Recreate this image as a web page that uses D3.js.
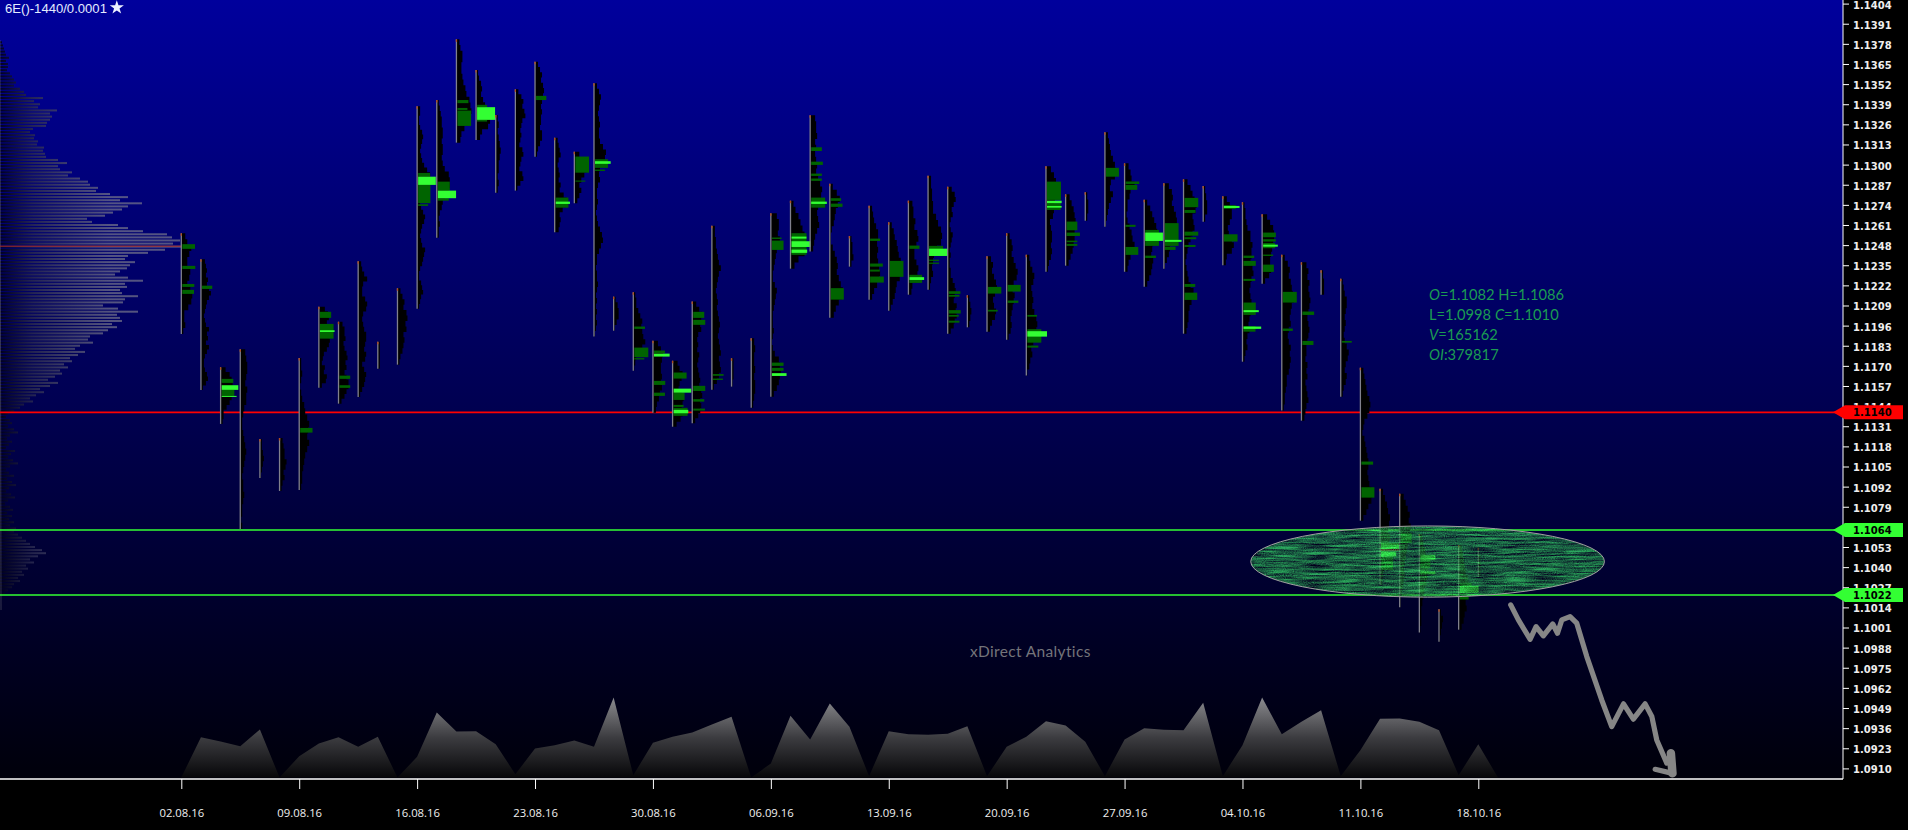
<!DOCTYPE html>
<html><head><meta charset="utf-8">
<script src="https://cdnjs.cloudflare.com/ajax/libs/d3/7.8.5/d3.min.js"></script>
<style>html,body{margin:0;padding:0;background:#000;overflow:hidden}svg{display:block}</style>
</head><body><svg id="c" width="1908" height="830"></svg>
<script>
const title="6E()-1440/0.0001";
const watermark="xDirect Analytics";
const dateLabels=["02.08.16","09.08.16","16.08.16","23.08.16","30.08.16","06.09.16","13.09.16","20.09.16","27.09.16","04.10.16","11.10.16","18.10.16"];
const dateBars=[0,6,12,18,24,30,36,42,48,54,60,66];
const levels=[{p:1.1140,c:"#ff0000"},{p:1.1064,c:"#33ff33"},{p:1.1022,c:"#33ff33"}];
const highs=[1.12556,1.12388,1.11691,1.11807,1.11228,1.11234,1.11751,1.12082,1.11985,1.12375,1.11856,1.12201,1.13377,1.13417,1.13809,1.13611,1.1332,1.13486,1.13665,1.13174,1.13083,1.13525,1.12147,1.12175,1.11863,1.11733,1.12115,1.12605,1.11749,1.11878,1.12686,1.12767,1.13319,1.12877,1.12539,1.12735,1.12627,1.12767,1.12928,1.12857,1.12156,1.12408,1.12556,1.12418,1.12989,1.12808,1.12821,1.13209,1.13008,1.12773,1.12879,1.12905,1.12862,1.12795,1.12757,1.12679,1.12418,1.12369,1.12317,1.12263,1.11688,1.10907,1.10874,1.10614,1.10128,1.10543,1.10526];
const lows=[1.11906,1.11544,1.11325,1.10646,1.10976,1.10892,1.10898,1.11559,1.11456,1.11499,1.11682,1.11708,1.12069,1.12528,1.13142,1.13159,1.12819,1.12832,1.13051,1.12563,1.1275,1.11889,1.11927,1.11669,1.11398,1.11307,1.11329,1.11546,1.11566,1.1143,1.11501,1.12328,1.12438,1.12011,1.12341,1.12127,1.12056,1.1216,1.12192,1.11908,1.11949,1.11921,1.11869,1.11637,1.12308,1.12347,1.12638,1.12599,1.12308,1.12211,1.12328,1.11908,1.12631,1.1235,1.11727,1.12231,1.11411,1.11346,1.1216,1.11501,1.1070,1.10285,1.10141,1.09977,1.09918,1.09996,1.10338];
const dailyVolume=[0,121,108,94,144,0,64,102,121,92,122,0,62,195,138,139,100,10,87,97,111,92,240,7,104,122,135,159,182,0,42,185,114,222,152,4,139,130,128,131,154,4,92,122,169,156,107,4,114,148,143,142,224,4,97,240,130,167,202,4,82,176,177,167,142,7,100,0];
const profiles=[
[2,4,6,10,8,6,6,9,8,6,9,11,10,7,3,3,4,2],
[2,4,5,6,5,7,6,8,10,8,6,5,4,3,4,5,8,6,7,5,8,6,4,3,3,4,6,7,5,2],
[2,5,9,11,12,13,12,11,9,6,3,3,2],
[2,5,6,7,7,6,5,7,6,6,4,3,2,2,3,4,5,6,5,4,3,2,3,3,4,3,2,2,1,2],
[1,2,2,3,4,3,2,1],
[2,3,4,5,5,7,6,4,5,3,2],
[1,2,2,3,2,1,2,3,5,6,8,10,9,8,10,8,6,5,4,3,3,2],
[3,6,9,10,8,6,8,10,11,10,8,5,4,3,6,5,8,7,3],
[2,4,6,6,7,5,6,8,9,7,8,6,8,10,10,8,6,3],
[2,3,4,6,9,5,4,4,7,9,8,5,4,5,6,8,8,7,6,8,7,4,6,8,7,6,4,2],
[1,2,2,2,2],
[2,3,5,7,6,9,10,8,9,6,7,6,5,3,2],
[2,3,3,2,2,3,5,6,5,4,3,4,5,7,10,13,13,13,11,8,5,3,4,6,8,7,5,4,3,4,5,8,7,6,5,3,2,2,4,5,6,4,3,2],
[1,2,3,4,5,5,6,6,5,6,6,5,6,8,12,13,13,12,8,6,5,3,2,3,2,2],
[1,3,4,6,6,5,5,6,7,9,10,13,14,15,14,12,8,5,4],
[1,2,3,5,6,5,7,9,13,14,14,12,6,4],
[2,2,3,2,3,4,5,4,3,3,2,3,2],
[2,3,6,8,7,9,10,7,6,5,6,5,4,7,8,6,5,4,7,8,5,2],
[1,3,5,7,6,8,9,8,7,6,7,6,6,5,7,7,5,3,2],
[1,3,4,5,6,4,3,4,5,4,6,5,9,12,11,8,5,6,5,4],
[2,5,8,10,12,10,7,5,7,5,3],
[1,3,5,7,6,5,4,5,6,5,5,6,9,12,11,7,6,5,6,4,3,3,4,3,2,3,4,6,8,9,7,5,3,3,2,3,3,4,3,2,3,2,3,2,3,2,1],
[1,2,4,5,5,3,1],
[1,2,3,3,5,7,9,8,9,10,12,9,6,3,2,1],
[2,5,8,10,9,8,8,9,8,9,7,6,4,3],
[2,5,7,10,9,7,6,9,11,10,9,10,8,4],
[2,4,7,10,9,8,9,6,5,6,5,7,6,5,6,7,8,7,9,10,8,9,8,6,3],
[1,3,3,4,4,5,6,7,9,7,6,5,4,5,6,5,6,7,8,7,6,7,8,9,7,8,9,7,5,2],
[1,2,2,2,1],
[1,3,4,3,3,4,3,4,4,3,2],
[2,6,8,8,7,9,9,6,5,4,3,2,2,4,6,5,4,3,2,2,2,3,2,1,2,4,8,9,10,9,8,6,3],
[1,3,5,8,10,12,14,15,15,14,8,4],
[2,5,6,6,7,5,6,5,6,7,6,8,10,12,11,10,8,7,8,9,7,5,4,3],
[1,3,7,10,8,6,5,4,2,1,1,3,5,7,8,7,9,11,13,12,9,6,4],
[1,2,3,3,4,2],
[1,3,4,5,7,9,9,8,9,8,9,10,11,10,8,5,3],
[1,3,5,6,8,9,10,12,13,13,11,8,7,6,4,2],
[2,4,5,5,7,6,9,10,8,6,6,8,10,9,8,4,3],
[1,3,3,4,4,5,5,8,10,13,14,13,9,6,5,4,5,3,2],
[2,4,7,8,6,4,5,3,2,3,5,4,3,2,3,2,2,3,3,5,7,8,7,6,9,8,9,7,6,3],
[1,2,3,4,3,2],
[2,4,6,5,7,9,10,8,6,7,9,8,5,3],
[2,3,5,6,5,7,9,11,10,7,6,8,7,6,5,4,5,4,2],
[1,3,4,6,8,7,5,6,7,6,8,10,11,10,8,7,5,6,4,3,1],
[2,5,8,10,10,10,9,8,8,7,4,5,6,6,5,6,5,3,2],
[2,4,6,8,9,10,10,9,9,8,7,5,3],
[1,2,3,3,2],
[1,3,4,5,6,8,10,11,10,6,5,8,6,4,3,2,1],
[2,4,6,7,10,6,5,3,3,2,3,5,7,8,10,9,6,4,3],
[1,3,6,8,10,12,13,12,9,8,7,9,8,7,5,3],
[2,5,8,9,8,10,12,13,13,12,9,7,6,5,3,1],
[2,4,7,9,11,13,12,9,10,11,9,7,5,4,3,2,3,4,5,7,10,11,8,6,5,5,4,3],
[1,2,3,4,4,2],
[2,4,7,9,9,7,5,6,9,11,9,4,3],
[1,2,3,3,4,5,8,8,10,9,9,8,10,11,9,8,7,8,9,8,8,7,6,7,5,4,5,3,2],
[2,5,8,11,12,12,11,10,9,8,8,9,7,3],
[1,3,6,8,7,9,10,11,12,10,9,8,9,7,6,7,9,8,9,8,7,5,5,4,3,3,2],
[2,5,7,6,8,7,8,9,8,7,6,7,8,7,6,5,5,4,6,5,6,4,5,6,7,5,4,3],
[1,2,3,3],
[1,2,3,4,6,6,5,4,5,4,3,4,6,8,7,5,4,6,5,3,2],
[1,3,4,5,6,7,9,10,9,7,4,3,2,4,5,6,7,8,8,7,8,9,11,12,11,8,6,3],
[1,3,5,7,8,10,9,8,10,9,8,7,6,4,3,2],
[1,4,6,8,10,9,11,10,9,8,7,6,5,4,5,4,3,2,1,1],
[2,3,4,6,7,8,9,8,7,5,4,3,2,2,2,1],
[1,2,4,3,2,1],
[1,3,4,5,6,7,9,10,10,8,7,8,6,5,3],
[1,1,2,2,2]];
// [bar, top price, bottom price, volume, hot]
const nodes=[
[0,1.12486,1.12456,13.7,0],[0,1.12346,1.12326,14,0],[0,1.12229,1.1221,13,0],[0,1.12191,1.12165,12.7,0],
[1,1.12218,1.12197,11.3,0],
[2,1.11616,1.1159,12.7,0],[2,1.11575,1.11545,17.7,1],[2,1.11545,1.11506,13.7,0],[2,1.11506,1.115,16,1],
[6,1.11299,1.11269,13.3,0],
[7,1.12049,1.1201,12.3,0],[7,1.11971,1.11876,14.7,0],[7,1.1193,1.11919,15.7,1],
[8,1.11637,1.11616,11.7,0],[8,1.11575,1.11558,11.7,0],
[12,1.12946,1.12922,13,0],[12,1.12922,1.12869,18.7,1],[12,1.12869,1.12751,13.3,0],[12,1.12744,1.12733,11,0],
[13,1.1289,1.12832,13,0],[13,1.12832,1.12783,19.3,1],[13,1.12783,1.12767,12,0],
[14,1.13417,1.13397,12,0],[14,1.13366,1.13353,11,0],[14,1.13349,1.1325,14.7,0],
[15,1.13386,1.13371,11,0],[15,1.13371,1.13289,19,1],[15,1.13289,1.13278,11,0],
[18,1.13444,1.13417,11.3,0],
[19,1.12787,1.12722,13.7,0],[19,1.12761,1.12746,15.3,1],
[20,1.13052,1.12948,14.7,0],[20,1.12897,1.1289,11,0],
[21,1.13035,1.12979,14,0],[21,1.13022,1.13005,16.7,1],[21,1.12968,1.12959,11,0],
[23,1.11954,1.11939,11.7,0],[23,1.11818,1.11756,15,0],[23,1.1175,1.11741,11,0],
[24,1.11799,1.11782,12,0],[24,1.11779,1.1176,16.7,1],[24,1.11603,1.11577,12.3,0],[24,1.11527,1.11506,12,0],
[25,1.11657,1.11618,14,0],[25,1.11553,1.11527,18.7,1],[25,1.11527,1.1148,12,0],[25,1.11448,1.11435,11,0],[25,1.11429,1.11377,15,0],[25,1.11416,1.11394,15.7,1],
[26,1.12049,1.1201,12,0],[26,1.11997,1.11965,13,0],[26,1.11571,1.11538,13,0],[26,1.11485,1.11469,12,0],[26,1.11424,1.11411,12.7,0],
[27,1.11647,1.11636,11.7,0],[27,1.11618,1.11609,11,0],
[30,1.12529,1.1252,10.7,0],[30,1.12509,1.12449,12.7,0],[30,1.11721,1.117,12.7,0],[30,1.11687,1.11668,12.7,0],[30,1.11653,1.11635,15.7,1],
[31,1.12557,1.12417,16,0],[31,1.12535,1.12522,16,1],[31,1.12505,1.12468,20,1],[31,1.12451,1.1243,16.7,1],
[32,1.13112,1.13088,11.7,0],[32,1.13019,1.12998,12.7,0],[32,1.12942,1.12927,11.7,0],[32,1.1291,1.12895,11.7,0],[32,1.12787,1.12722,15,0],[32,1.12761,1.12746,16.7,1],
[33,1.12783,1.12766,11.3,0],[33,1.12748,1.12727,12.7,0],[33,1.12202,1.12128,14,0],
[35,1.12522,1.12507,11,0],[35,1.12361,1.12341,13.7,0],[35,1.12322,1.12309,10.7,0],[35,1.12277,1.12238,14.7,0],
[36,1.12378,1.12275,14.7,0],
[37,1.12477,1.12456,11,0],[37,1.12288,1.12236,13.7,0],[37,1.12273,1.12255,15.7,1],
[38,1.12475,1.1241,15,0],[38,1.12457,1.1241,19.7,1],[38,1.12386,1.12378,11,0],[38,1.12367,1.12359,11,0],
[39,1.12182,1.12165,12.7,0],[39,1.12158,1.12147,11.7,0],[39,1.1206,1.12038,13,0],[39,1.12029,1.12018,11,0],[39,1.11992,1.11979,11.7,0],
[41,1.1221,1.12167,14.3,0],[41,1.12062,1.12051,10.7,0],
[42,1.12223,1.1218,14,0],[42,1.12122,1.12107,11.7,0],
[43,1.12029,1.12018,10.7,0],[43,1.11937,1.1185,15,0],[43,1.11924,1.11889,20.7,1],[43,1.11831,1.11818,12,0],
[44,1.1289,1.12772,15,0],[44,1.12767,1.12751,15.7,1],[44,1.12733,1.12722,15.7,1],[44,1.12751,1.12707,14.7,0],
[45,1.12632,1.12576,11.7,0],[45,1.12561,1.12539,14.3,0],[45,1.12509,1.12499,11.7,0],[45,1.12488,1.12475,11.7,0],
[47,1.12979,1.12922,14,0],
[48,1.12891,1.12875,14.7,0],[48,1.12869,1.12837,12.7,0],[48,1.12611,1.12598,11,0],[48,1.12468,1.12417,13.7,0],
[49,1.12578,1.12475,14.7,0],[49,1.12561,1.12507,18.7,1],[49,1.12412,1.12397,11.7,0],
[50,1.12622,1.12475,14.7,0],[50,1.12514,1.12501,17.7,1],[50,1.1247,1.12449,11.7,0],
[51,1.12785,1.12725,14.7,0],[51,1.12707,1.12688,12,0],[51,1.12567,1.12541,14.7,0],[51,1.12531,1.12518,12.7,0],[51,1.12481,1.12468,12,0],[51,1.12229,1.1221,11.7,0],[51,1.12173,1.12126,13.7,0],
[53,1.12738,1.12714,13,0],[53,1.12733,1.1272,16.7,1],[53,1.1255,1.12503,14.7,0],
[54,1.12412,1.12397,11.7,0],[54,1.12378,1.12346,13.3,0],[54,1.12262,1.12249,12.7,0],[54,1.12109,1.12029,13.3,0],[54,1.1206,1.12047,16.3,1],[54,1.11956,1.11921,13,0],[54,1.11954,1.11939,18.7,1],
[55,1.12561,1.12531,13.7,0],[55,1.12518,1.12503,13.7,0],[55,1.12494,1.1246,13,0],[55,1.12483,1.1247,15.7,1],[55,1.12419,1.1241,11,0],[55,1.12354,1.12307,11.7,0],
[56,1.12178,1.12109,15,0],[56,1.11941,1.11926,11,0],
[57,1.12051,1.12029,12.7,0],[57,1.11861,1.11835,12,0],
[59,1.11861,1.1185,11,0],
[60,1.11082,1.11062,12.7,0],[60,1.10916,1.10849,14,0],
[61,1.10555,1.10516,19,1],[61,1.105,1.10468,16,1],[61,1.10468,1.10382,13,0],
[62,1.10621,1.10557,12,0],
[63,1.10479,1.10447,16,1],[63,1.10447,1.10395,11,0],[63,1.10371,1.10354,16,1],
[65,1.10298,1.10279,13,0],[65,1.10279,1.10235,20,1],[65,1.1021,1.10191,10,0]];
const compositeTop=1.1379, compositeStep=0.0002;
const compositeProfile=[2,3,4,5,6,9,6,8,8,7,10,12,14,16,14,20,24,26,43,34,40,38,57,50,52,50,47,46,33,30,35,34,38,37,44,43,45,46,58,67,58,60,72,68,80,88,90,98,96,110,128,120,142,128,122,113,105,87,92,118,128,143,167,172,180,173,192,165,148,128,125,135,130,127,120,115,128,143,125,127,120,122,138,125,123,103,118,138,117,120,122,112,117,108,103,90,88,93,80,
75,85,78,70,72,64,68,60,62,55,48,58,50,40,44,36,30,33,24,20,
14,8,6,10,12,8,14,18,10,7,12,9,6,15,11,8,13,18,10,6,9,14,7,12,16,9,6,11,15,8,5,10,13,7,12,9,14,10,16,
14,18,22,26,30,35,42,46,38,30,34,26,28,22,24,18,20,14,12,8,5];
const compositePoc=1.12473;
const sessionPoc={bar:61,price:1.10511,vol:20};
const quote=[[["O",1],["=1.1082 H=1.1086",0]],[["L",0],["=1.0998 ",0],["C",1],["=1.1010",0]],[["V",1],["=165162",0]],[["OI",1],[":379817",0]]];
const zone={from:54.42,to:72.42,top:1.10666,bottom:1.10206};
const forecastBars=[67.65,68.04,68.64,68.94,69.31,69.79,70.03,70.25,70.67,71.01,71.52,72.28,72.79,73.39,73.89,74.49,74.83,75.08,75.59,75.8,75.88,75.0];
const forecastPrices=[1.10156,1.10059,1.09934,1.10016,1.09956,1.10033,1.09973,1.10059,1.1008,1.10038,1.09822,1.09542,1.0937,1.09517,1.09418,1.09517,1.09435,1.09284,1.09134,1.09198,1.09068,1.09094];
const axisTicks=[1.1404,1.1391,1.1378,1.1365,1.1352,1.1339,1.1326,1.1313,1.13,1.1287,1.1274,1.1261,1.1248,1.1235,1.1222,1.1209,1.1196,1.1183,1.117,1.1157,1.1144,1.1131,1.1118,1.1105,1.1092,1.1079,1.1066,1.1053,1.104,1.1027,1.1014,1.1001,1.0988,1.0975,1.0962,1.0949,1.0936,1.0923,1.091];

const W=1908,H=830,plotR=1843,plotB=779;
const x=d3.scaleLinear().domain([0,66]).range([181.3,1478.3]);
const y=d3.scaleLinear().domain([1.1404,1.1022]).range([3.6,595]);
const vw=d3.scaleLinear().domain([0,100]).range([0,100]);
const vy=d3.scaleLinear().domain([0,240]).range([777.5,697.5]);
const svg=d3.select("#c");
const defs=svg.append("defs");
const grad=(id,attrs,stops)=>{const g=defs.append("linearGradient").attr("id",id).attr("gradientUnits","userSpaceOnUse");
 Object.entries(attrs).forEach(([k,v])=>g.attr(k,v));stops.forEach(s=>g.append("stop").attr("offset",s[0]).attr("stop-color",s[1]).attr("stop-opacity",s[2]==null?1:s[2]));};
grad("bg",{x1:0,y1:0,x2:0,y2:plotB},[[0,"#00009c"],[0.5,"#000054"],[1,"#00000a"]]);
grad("comp",{x1:0,y1:0,x2:110,y2:0},[[0,"#000018",0.9],[0.3,"#2a2a50",0.85],[1,"#74748a",0.72]]);
grad("vol",{x1:0,y1:697,x2:0,y2:778},[[0,"#8c8c90"],[0.5,"#3c3c40"],[1,"#060608"]]);
const f=defs.append("filter").attr("id","tex").attr("filterUnits","userSpaceOnUse").attr("x",1240).attr("y",520).attr("width",380).attr("height",85).attr("color-interpolation-filters","sRGB");
f.append("feTurbulence").attr("type","fractalNoise").attr("baseFrequency","0.03 0.55").attr("numOctaves",3).attr("seed",4).attr("result","streak");
f.append("feTurbulence").attr("type","fractalNoise").attr("baseFrequency","0.9 0.9").attr("numOctaves",1).attr("seed",9).attr("result","grain");
f.append("feComposite").attr("in","streak").attr("in2","grain").attr("operator","arithmetic").attr("k1",0).attr("k2",0.68).attr("k3",0.32).attr("k4",0).attr("result","mix");
f.append("feColorMatrix").attr("in","mix").attr("type","matrix").attr("values","0.5 0 0 0 -0.1  2.3 0 0 0 -0.6  0.8 0 0 0 -0.12  0 0 0 0 0.65").attr("result","col");
f.append("feComposite").attr("in","col").attr("in2","SourceAlpha").attr("operator","in");

svg.append("rect").attr("width",W).attr("height",H).attr("fill","#000");
svg.append("rect").attr("width",plotR).attr("height",plotB).attr("fill","url(#bg)");

// composite volume profile
svg.append("g").selectAll("rect").data(compositeProfile).join("rect")
 .attr("x",0).attr("y",(d,i)=>y(compositeTop-i*compositeStep)-1).attr("height",2).attr("width",d=>vw(d)).attr("fill","url(#comp)");
svg.append("line").attr("x1",0).attr("x2",1).attr("y1",40).attr("y2",610).attr("stroke","#999").attr("stroke-opacity",.35).attr("stroke-width",1);
svg.append("line").attr("x1",0).attr("x2",x(0)+9.5).attr("y1",y(compositePoc)).attr("y2",y(compositePoc)).attr("stroke","#a82a2a").attr("stroke-width",1);

// support and resistance
svg.append("g").selectAll("line").data(levels).join("line").attr("x1",0).attr("x2",plotR)
 .attr("y1",d=>y(d.p)).attr("y2",d=>y(d.p)).attr("stroke",d=>d.c).attr("stroke-width",d=>d.c==="#ff0000"?1.8:1.6);

// volume profile silhouettes
const area=d3.area().curve(d3.curveStepAfter);
svg.append("g").selectAll("path").data(profiles).join("path").attr("fill","#000").attr("d",(p,b)=>{
 const py=d3.scaleLinear().domain([0,p.length-1]).range([y(highs[b]),y(lows[b])]);
 return area.x0(()=>x(b)).x1(d=>x(b)+vw(d)).y((d,i)=>py(i))(p);
});
// value nodes
const sorted=nodes.slice().sort((a,b)=>a[4]-b[4]);
svg.append("g").selectAll("rect").data(sorted).join("rect")
 .attr("x",d=>x(d[0])+1).attr("y",d=>y(d[1])).attr("width",d=>vw(d[3])-1).attr("height",d=>Math.max(1,y(d[2])-y(d[1])))
 .attr("fill",d=>d[4]?"#33ff33":"#006400");
svg.append("line").attr("x1",x(sessionPoc.bar)).attr("x2",x(sessionPoc.bar)+vw(sessionPoc.vol)).attr("y1",y(sessionPoc.price)).attr("y2",y(sessionPoc.price)).attr("stroke","#d03020").attr("stroke-width",1.2);

// bars
svg.append("g").selectAll("line").data(highs).join("line")
 .attr("x1",(d,i)=>x(i)).attr("x2",(d,i)=>x(i)).attr("y1",d=>y(d)).attr("y2",(d,i)=>y(lows[i]))
 .attr("stroke","#80808c").attr("stroke-width",1.3);
svg.append("g").selectAll("line").data(highs).join("line")
 .attr("x1",(d,i)=>x(i)).attr("x2",(d,i)=>x(i)).attr("y1",d=>y(d)).attr("y2",d=>y(d)+2.5)
 .attr("stroke","#b04a20").attr("stroke-width",1.3);

// marked zone
const zx0=x(zone.from),zx1=x(zone.to),zy0=y(zone.top),zy1=y(zone.bottom);
svg.append("ellipse").attr("cx",(zx0+zx1)/2).attr("cy",(zy0+zy1)/2).attr("rx",(zx1-zx0)/2).attr("ry",(zy1-zy0)/2).attr("fill","#0a0").attr("filter","url(#tex)");
svg.append("ellipse").attr("cx",(zx0+zx1)/2).attr("cy",(zy0+zy1)/2).attr("rx",(zx1-zx0)/2).attr("ry",(zy1-zy0)/2).attr("fill","none").attr("stroke","#a0a0a0").attr("stroke-width",1);

// freehand forecast
const fLine=d3.line().x(d=>x(d[0])).y(d=>y(d[1]));
const fPts=forecastBars.map((b,i)=>[b,forecastPrices[i]]);
svg.append("path").datum(fPts).attr("fill","none").attr("stroke","#868686").attr("stroke-width",5.2).attr("stroke-linejoin","round").attr("stroke-linecap","round").attr("d",fLine);
svg.append("path").datum(fPts.slice(19,21)).attr("fill","none").attr("stroke","#868686").attr("stroke-width",8.5).attr("stroke-linecap","round").attr("d",fLine);

// daily volume
svg.append("path").datum(dailyVolume).attr("fill","url(#vol)")
 .attr("d",d3.area().x((d,i)=>x(i)).y0(vy(0)).y1(d=>vy(d)));

// annotations
svg.append("text").attr("x",5).attr("y",12.5).attr("font-family","Liberation Sans").attr("font-size",13.1).attr("fill","#e4ecff").text(title);
svg.append("path").attr("transform","translate(116.8,7.6)").attr("d",d3.symbol(d3.symbolStar,62)()).attr("fill","#ecf0ff");
svg.append("text").attr("x",970).attr("y",657).attr("font-family","Lato").attr("font-size",15.5).attr("letter-spacing",0.35).attr("fill","#74747a").text(watermark);
const q=svg.append("g").attr("font-family","Lato").attr("font-size",14.7).attr("fill","#1b9c52");
quote.forEach((ln,i)=>{const t=q.append("text").attr("x",1429).attr("y",y(1.1404)+0+300-3.6+i*20);
 ln.forEach(s=>t.append("tspan").attr("font-style",s[1]?"italic":"normal").text(s[0]));});

// axes
const ax=d3.axisRight(y).tickValues(axisTicks).tickFormat(d3.format(".4f")).tickSize(6).tickPadding(4);
const gy=svg.append("g").attr("transform",`translate(${plotR},0)`).call(ax);
gy.select(".domain").attr("stroke","#fff").attr("d",`M0,0V${plotB}`);
gy.selectAll("line").attr("stroke","#fff");
gy.selectAll("text").attr("dy","0.44em").attr("font-family","DejaVu Sans").attr("font-weight","bold").attr("font-size",10).attr("fill","#eee");
const bx=d3.axisBottom(x).tickValues(dateBars).tickFormat((d,i)=>dateLabels[i]).tickSize(10).tickPadding(20);
const gx=svg.append("g").attr("transform",`translate(0,${plotB})`).call(bx);
gx.select(".domain").attr("stroke","#fff").attr("stroke-width",1.3).attr("d",`M0,0H${plotR}`);
gx.selectAll("line").attr("stroke","#fff");
gx.selectAll("text").attr("font-family","Open Sans").attr("font-size",11.3).attr("fill","#f0f0f0");

// price tags
const tags=svg.append("g").selectAll("g").data(levels).join("g").attr("transform",d=>`translate(0,${y(d.p)})`);
tags.append("path").attr("fill",d=>d.c).attr("d",()=>{const p=d3.path();p.moveTo(1833,0);p.lineTo(1845,-7);p.lineTo(1903,-7);p.lineTo(1903,7);p.lineTo(1845,7);p.closePath();return p.toString();});
tags.append("text").attr("x",1853).attr("dy","0.36em").attr("font-family","DejaVu Sans").attr("font-weight","bold").attr("font-size",10).attr("fill","#000").text(d=>d.p.toFixed(4));
</script></body></html>
